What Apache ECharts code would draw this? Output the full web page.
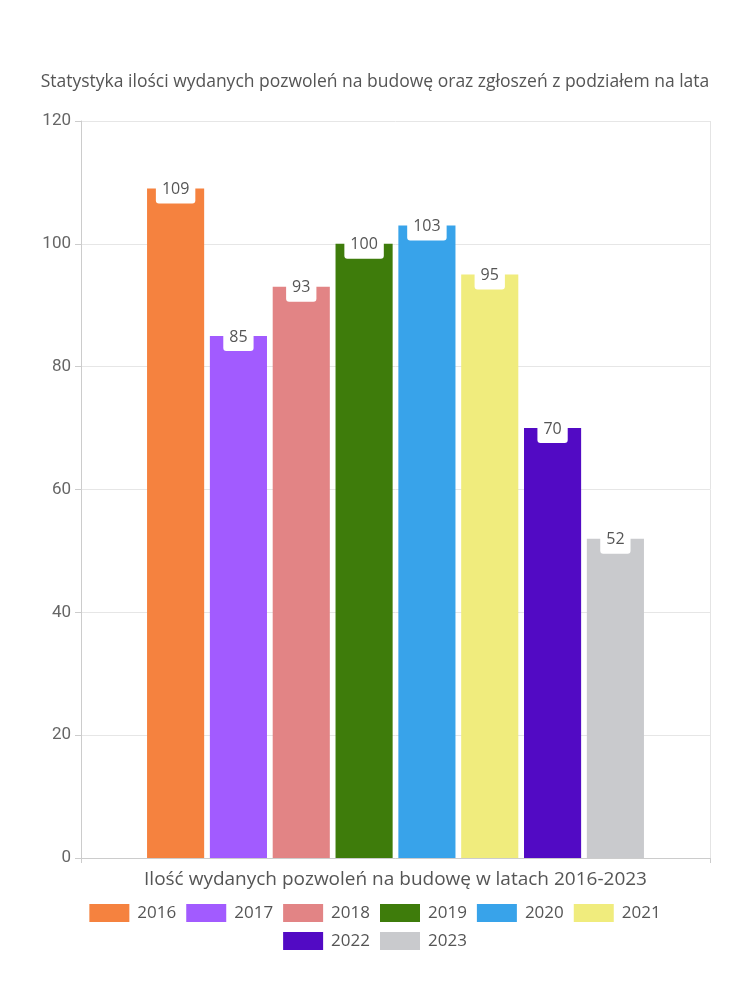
<!DOCTYPE html>
<html><head><meta charset="utf-8">
<script src="https://cdn.jsdelivr.net/npm/echarts@6/dist/echarts.min.js"></script>
<style>html,body{margin:0;padding:0;background:#fff}#c{width:750px;height:1000px}</style>
</head><body><div id="c"></div>
<script>
const categories = ['Ilość wydanych pozwoleń na budowę w latach 2016-2023'];
const years = ['2016','2017','2018','2019','2020','2021','2022','2023'];
const values = [109, 85, 93, 100, 103, 95, 70, 52];
const colors = ['#F5823F','#A25BFF','#E28485','#3E7C0B','#38A3EA','#F0EC7D','#520AC4','#C9CACD'];
const yTicks = [0, 20, 40, 60, 80, 100, 120];
const FONT = 'Open Sans';
const legendText = {fontFamily: FONT, fontSize: 17, color: '#555', padding: [0, 0, 0, 3]};
const chart = echarts.init(document.getElementById('c'));
chart.setOption({
  animation: false,
  title: {text: 'Statystyka ilości wydanych pozwoleń na budowę oraz zgłoszeń z podziałem na lata', left: 'center', top: 68,
    textStyle: {fontFamily: FONT, fontWeight: 'normal', fontSize: 17.5, color: '#555'}},
  grid: {left: 81, right: 40, top: 121, bottom: 142},
  legend: [
    {top: 899, left: 'center', itemWidth: 40, itemHeight: 18, itemGap: 10, icon: 'rect',
     textStyle: legendText, data: years.slice(0, 6)},
    {top: 927, left: 'center', itemWidth: 40, itemHeight: 18, itemGap: 10, icon: 'rect',
     textStyle: legendText, data: years.slice(6)}
  ],
  xAxis: {type: 'category', data: categories,
    axisLine: {show: true, lineStyle: {color: '#ccc'}},
    axisTick: {show: true, lineStyle: {color: '#ccc'}},
    splitLine: {show: true, lineStyle: {color: '#e4e4e4'}},
    axisLabel: {fontFamily: FONT, fontSize: 19, color: '#555', margin: 12}},
  yAxis: {type: 'value', min: yTicks[0], max: yTicks[yTicks.length-1], interval: 20,
    axisLine: {show: true, lineStyle: {color: '#ccc'}},
    axisTick: {show: true, length: 6, lineStyle: {color: '#ccc'}},
    splitLine: {lineStyle: {color: '#e6e6e6'}},
    axisLabel: {fontFamily: 'Roboto', fontSize: 17, color: '#666', margin: 10}},
  series: years.map((y, i) => ({
    name: y, type: 'bar', barGap: '10%', barCategoryGap: '21%',
    itemStyle: {color: colors[i]},
    data: [values[i]],
    label: {show: true, position: 'insideTop', offset: [0, -14], fontFamily: FONT, fontSize: 16, color: '#555',
      backgroundColor: '#fff', borderRadius: 3, padding: [2, 6, 6, 6]}
  }))
});
</script></body></html>
